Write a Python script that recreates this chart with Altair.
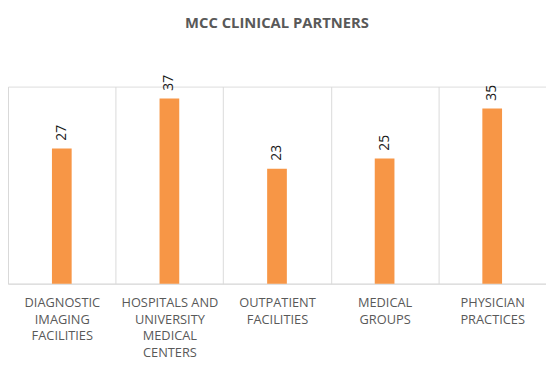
import altair as alt
import pandas as pd

categories = [
    "DIAGNOSTIC\nIMAGING\nFACILITIES",
    "HOSPITALS AND\nUNIVERSITY\nMEDICAL\nCENTERS",
    "OUTPATIENT\nFACILITIES",
    "MEDICAL\nGROUPS",
    "PHYSICIAN\nPRACTICES",
]
values = [27, 37, 23, 25, 35]

df = pd.DataFrame({"category": categories, "value": values})

FONT = "Open Sans"

base = alt.Chart(df).encode(
    x=alt.X(
        "category:N",
        sort=None,
        title=None,
        scale=alt.Scale(paddingInner=0, paddingOuter=0),
        axis=alt.Axis(
            labelAngle=0,
            labelExpr="split(datum.label, '\\n')",
            labelFont=FONT,
            labelFontSize=13,
            labelColor="#595959",
            labelLineHeight=17,
            labelPadding=13,
            labelLimit=0,
            ticks=False,
            grid=True,
            gridColor="#d9d9d9",
            tickBand="extent",
            domainColor="#d9d9d9",
        ),
    ),
    y=alt.Y("value:Q", axis=None, scale=alt.Scale(domain=[0, 39.4], nice=False)),
)

bars = base.mark_bar(color="#F79646", width=20)
labels = base.mark_text(
    angle=270, align="left", baseline="middle", dx=8, fontSize=14, font=FONT, color="#1a1a1a"
).encode(text="value:Q")

chart = (
    (bars + labels)
    .properties(
        width=546,
        height=200,
        autosize=alt.AutoSizeParams(type="none"),
        padding={"left": 0, "top": 77, "right": 0, "bottom": 95},
        title=alt.Title(
            "MCC CLINICAL PARTNERS",
            font=FONT,
            fontSize=15,
            fontWeight="bold",
            color="#595959",
            offset=45,
            anchor="middle",
        ),
    )
    .configure_view(strokeWidth=0)
    .configure(background="white")
)

chart.save("out.html", embed_options={"renderer": "svg", "actions": False})
